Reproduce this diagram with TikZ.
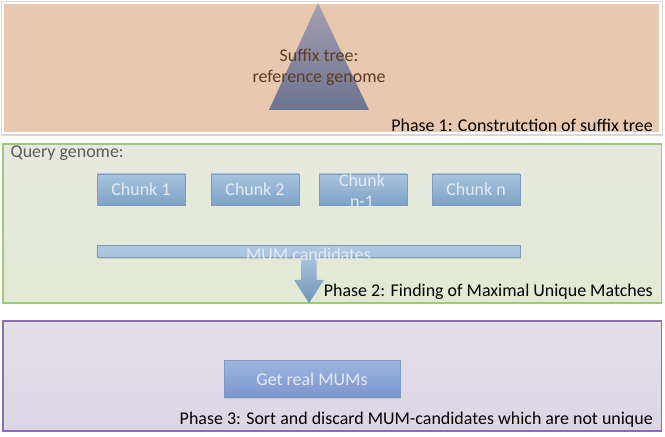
\documentclass[tikz,border=0pt]{standalone}
\usepackage{fontspec}
\setmainfont{Carlito}
\usetikzlibrary{shadows,shapes.arrows}
\definecolor{peach}{HTML}{E8C9AF}
\definecolor{greenfillA}{HTML}{E7E8DF}
\definecolor{greenfillB}{HTML}{E1EAD2}
\definecolor{greenedge}{HTML}{9DC97A}
\definecolor{lavfillA}{HTML}{E4DEE6}
\definecolor{lavfillB}{HTML}{DCD6E4}
\definecolor{lavedge}{HTML}{8A6CB8}
\definecolor{triA}{HTML}{A59FB0}
\definecolor{triB}{HTML}{6C7390}
\definecolor{brownText}{HTML}{5A3C22}
\definecolor{chunkA}{HTML}{A8C3DD}
\definecolor{chunkB}{HTML}{7DA3C7}
\definecolor{chunkEdge}{HTML}{7C9CBB}
\definecolor{chunkText}{HTML}{E4EBF2}
\definecolor{realA}{HTML}{A0B5E0}
\definecolor{realB}{HTML}{7996CE}
\definecolor{realEdge}{HTML}{7F98C8}
\definecolor{grayText}{HTML}{5A5A5A}
\tikzset{
  x=1bp, y=-1bp,
  every node/.style={font=\fontsize{18}{21}\selectfont, inner sep=0pt},
  phasebox/.style={line width=1.2bp},
  chunkbox/.style={draw=chunkEdge, line width=0.8bp, top color=chunkA, bottom color=chunkB,
    drop shadow={shadow xshift=1bp, shadow yshift=-1.5bp, opacity=0.25}},
  lbl/.style={anchor=east, text=black},
}
\begin{document}
\begin{tikzpicture}
\useasboundingbox (0,0) rectangle (665,437);
\fill[white] (0,0) rectangle (665,437);
% Phase 1
\fill[black!25, opacity=0.6] (1,1.5) rectangle (663,136);
\draw[white, line width=2.5bp, fill=peach] (3,3) rectangle (660.5,133);
\shade[top color=triA, bottom color=triB] (318,3) -- (369,110) -- (269,110) -- cycle;
\node[text=brownText, align=center] (st) at (319,67) {Suffix tree:\\reference genome};
\node[lbl] (p1) at (653,125) {Phase 1: Construtction of suffix tree};
% Phase 2
\path[draw=greenedge, phasebox, top color=greenfillA, bottom color=greenfillB] (3,144) rectangle (661.5,303);
\node[anchor=west, text=grayText] (qg) at (10.5,153.5) {Query genome:};
\node[chunkbox, minimum width=88bp, minimum height=31bp, text=chunkText] (c1) at (141,189.5) {Chunk 1};
\node[chunkbox, minimum width=88bp, minimum height=31bp, text=chunkText] (c2) at (255,189.5) {Chunk 2};
\node[chunkbox, minimum width=88bp, minimum height=31bp] (c3) at (363,189.5) {};
\node[text=chunkText, align=center] (c3t) at (362,191) {Chunk\\n-1};
\node[chunkbox, minimum width=88bp, minimum height=31bp, text=chunkText] (c4) at (476,189.5) {Chunk n};
\node[chunkbox, minimum width=423bp, minimum height=12.5bp, top color=chunkA!90, bottom color=chunkA] (mum) at (308.5,251.5) {};
\coordinate (tip) at (309,303);
\shade[top color=chunkA, bottom color=chunkB!90!black]
  (301,257.5) -- (301,280) -- (294,280) -- (tip) -- (324,280) -- (316.5,280) -- (316.5,257.5) -- cycle;
\node[text=chunkText] (mumt) at (308.5,254) {MUM candidates};
\node[lbl] (p2) at (653,291.5) {Phase 2: Finding of Maximal Unique Matches};
% Phase 3
\path[draw=lavedge, phasebox, top color=lavfillA, bottom color=lavfillB] (3,321) rectangle (661.5,431);
\node[chunkbox, draw=realEdge, top color=realA, bottom color=realB, minimum width=176bp, minimum height=37bp, text=chunkText] (real) at (312,379) {Get real MUMs};
\node[lbl] (p3) at (653,420) {Phase 3: Sort and discard MUM-candidates which are not unique};
\end{tikzpicture}
\end{document}
